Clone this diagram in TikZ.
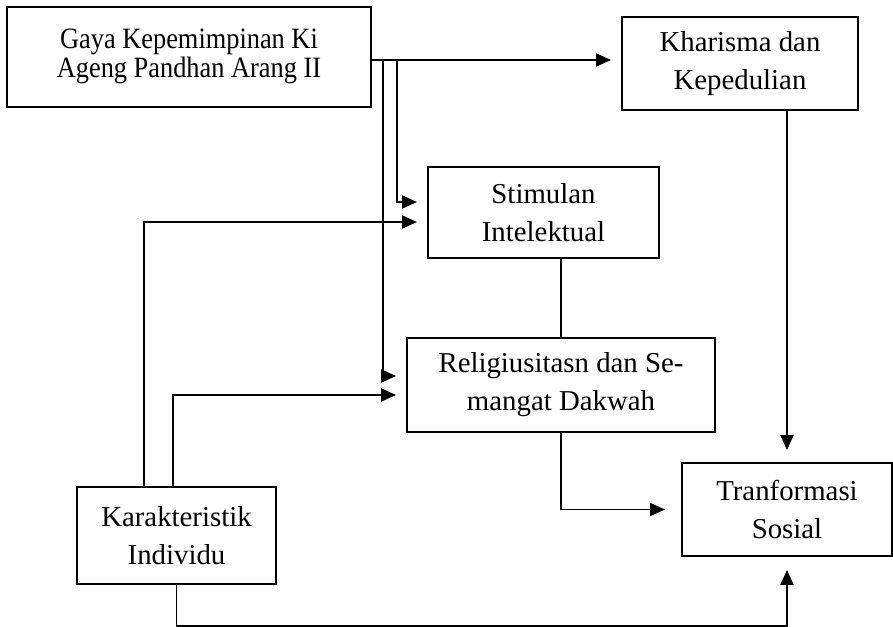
\documentclass[tikz,border=0pt]{standalone}
\usepackage{fontspec}
\usepackage{graphicx}
\setmainfont{Liberation Serif}
\usetikzlibrary{arrows.meta}
\begin{document}
\begin{tikzpicture}[line width=1.1pt,
                    align=center,
                    box/.style={draw, inner sep=0pt, font=\fontsize{16.4}{21.6}\selectfont},
                    panah/.style={-{Triangle[length=0.3cm, width=0.26cm]}, shorten >=0.2cm},
                    every node/.style={text centered}]
  \useasboundingbox (0, 0) rectangle (17.86, -12.54);
  \coordinate (cabang_a) at (7.66, -1.2);
  \coordinate (cabang_b) at (7.94, -1.2);
  \coordinate (bawah) at (0, -12.52);
  \node[box, minimum width=7.28cm, minimum height=2cm, font=\fontsize{15}{15.2}\selectfont] (gaya_kepemimpinan) at (3.78, -1.14)
    {\scalebox{1}[1.12]{\begin{tabular}{@{}c@{}}Gaya Kepemimpinan Ki\\Ageng Pandhan Arang II\end{tabular}}};
  \node[box, minimum width=4.72cm, minimum height=1.86cm] (kharisma) at (14.8, -1.27) {Kharisma dan\\Kepedulian};
  \node[box, minimum width=4.62cm, minimum height=1.82cm] (stimulan) at (10.87, -4.25) {Stimulan\\Intelektual};
  \node[box, minimum width=6.16cm, minimum height=1.88cm] (religiusitas) at (11.22, -7.7) {Religiusitasn dan Se-\\mangat Dakwah};
  \node[box, minimum width=4.2cm, minimum height=1.86cm] (tranformasi) at (15.74, -10.19) {Tranformasi\\Sosial};
  \node[box, minimum width=3.98cm, minimum height=1.94cm] (karakteristik) at (3.53, -10.71) {Karakteristik\\Individu};
  \draw[panah] (gaya_kepemimpinan.east |- cabang_a) -- (kharisma.west |- cabang_a);
  \draw[panah] (cabang_a) |- ([yshift=0.18cm]religiusitas.west);
  \draw[panah] (cabang_b) |- ([yshift=0.21cm]stimulan.west);
  \draw[panah] ([xshift=-0.65cm]karakteristik.north) |- ([yshift=-0.19cm]stimulan.west);
  \draw[panah] ([xshift=-0.07cm]karakteristik.north) |- ([yshift=-0.2cm]religiusitas.west);
  \draw (religiusitas.north |- stimulan.south) -- (religiusitas.north);
  \draw[panah, shorten >=0.32cm] (religiusitas.south) |- (tranformasi.west);
  \draw[panah, shorten >=0.24cm] (tranformasi.north |- kharisma.south) -- (tranformasi.north);
  \draw[panah, shorten >=0.26cm] (karakteristik.south) -- (karakteristik.south |- bawah) -| (tranformasi.south);
\end{tikzpicture}
\end{document}
